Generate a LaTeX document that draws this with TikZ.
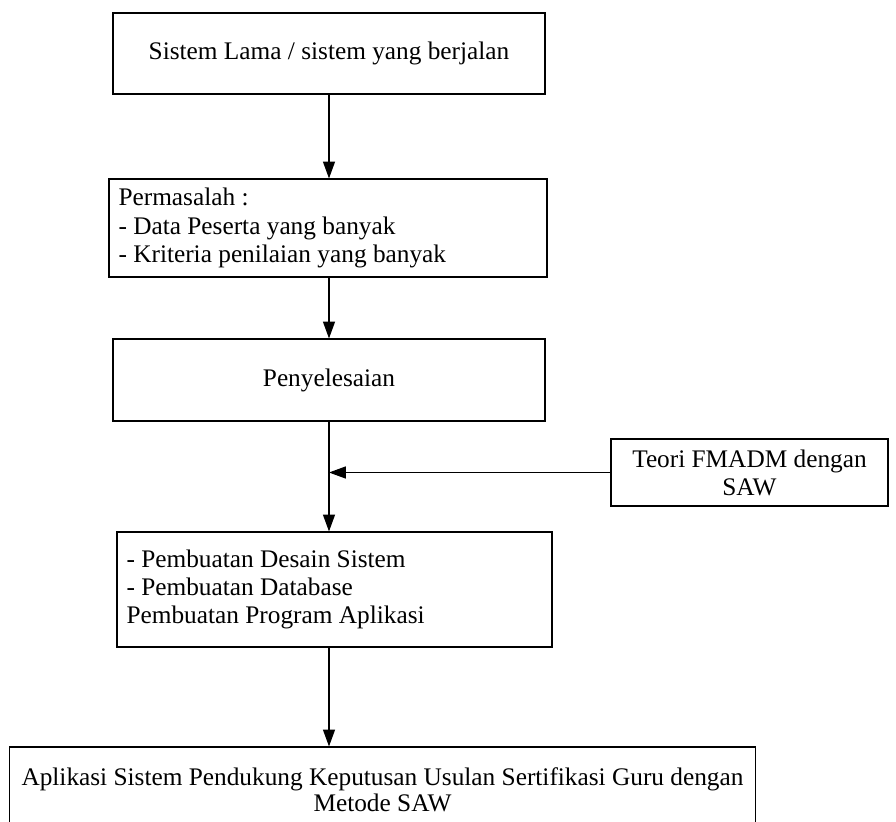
\documentclass[tikz,border=0pt]{standalone}
\usepackage{fontspec}
\setmainfont{Liberation Serif}
\usetikzlibrary{arrows.meta}
\begin{document}
\begin{tikzpicture}[x=0.025cm, y=-0.025cm,
                    mbox/.style = {shape = rectangle,
                                   color = black,
                                   line width = 0.8pt,
                                   inner sep = 0pt,
                                   font = \fontsize{18}{20}\selectfont,
                                   draw},
                    lbox/.style = {mbox,
                                   align = flush left,
                                   inner xsep = 0.24cm},
                    marrow/.style = {line width = 0.8pt,
                                     -{Triangle[length=0.42cm, width=0.3cm]}}]
		\useasboundingbox (0,0) rectangle (896,822);
		\node[mbox, minimum width=10.8cm, minimum height=2.025cm] (lama) at (329,53.5)
			{Sistem Lama / sistem yang berjalan};
		\node[lbox, minimum width=10.95cm, minimum height=2.45cm, text width=10.47cm] (masalah) at (328,228)
			{Permasalah :\\- Data Peserta yang banyak\\- Kriteria penilaian yang banyak};
		\node[mbox, minimum width=10.8cm, minimum height=2.05cm] (selesai) at (329,380)
			{Penyelesaian};
		\node[mbox, minimum width=6.925cm, minimum height=1.675cm, align=center] (teori) at (749.5,472.5)
			{Teori FMADM dengan\\SAW};
		\node[lbox, minimum width=10.875cm, minimum height=2.875cm, text width=10.395cm] (buat) at (334.5,589.5)
			{- Pembuatan Desain Sistem\\- Pembuatan Database\\Pembuatan Program Aplikasi};
		\node[mbox, minimum width=18.625cm, minimum height=2.125cm, align=center,
		      font=\fontsize{18}{18.7}\selectfont] (aplikasi) at (382.5,789.5)
			{Aplikasi Sistem Pendukung Keputusan Usulan Sertifikasi Guru dengan\\Metode SAW};
		% alur utama
		\coordinate (gabung) at (lama.south |- teori.west);
		\draw[marrow] (lama.south) -- (lama.south |- masalah.north);
		\draw[marrow] (lama.south |- masalah.south) -- (lama.south |- selesai.north);
		\draw[marrow] (lama.south |- selesai.south) -- (lama.south |- buat.north);
		\draw[marrow] (teori.west) -- (gabung);
		\draw[marrow] (lama.south |- buat.south) -- (lama.south |- aplikasi.north);
	\end{tikzpicture}
\end{document}
